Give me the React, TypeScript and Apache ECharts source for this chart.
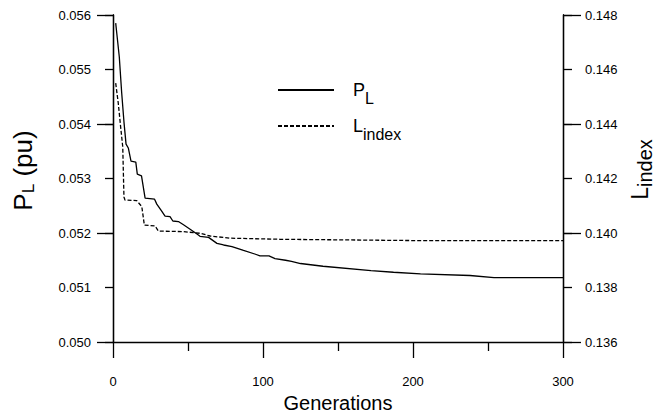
import React, { useEffect, useRef } from "react";
import * as echarts from "echarts";

const pGen = [1.8, 2.5, 4.2, 5.8, 7.3, 8.7, 10.2, 12, 15.2, 16.2, 19, 21.4, 27.7, 29.2, 32, 34.7, 38, 39.9, 43.6, 47, 51.4, 56, 58, 63.7, 69.3, 73.7, 79.3, 87, 95, 98, 104, 108, 115, 119, 125, 140, 172, 187, 205, 238, 254, 300];
const pLoss = [0.05585, 0.05567, 0.05523, 0.05457, 0.05404, 0.05363, 0.05356, 0.05332, 0.0533, 0.05308, 0.05305, 0.05264, 0.05262, 0.05253, 0.05242, 0.05231, 0.0523, 0.05222, 0.05221, 0.05215, 0.05207, 0.05198, 0.05194, 0.05192, 0.05181, 0.05178, 0.05175, 0.05168, 0.05161, 0.05158, 0.05158, 0.05153, 0.0515, 0.05148, 0.05144, 0.05139, 0.05131, 0.05128, 0.05125, 0.05122, 0.05118, 0.05118];

const lGen = [1.8, 3.5, 5.1, 6.5, 7.3, 8, 15.8, 19.2, 20.9, 28, 30.3, 47, 58, 64.8, 78, 111, 205, 300];
const lIndex = [0.1455, 0.14477, 0.14389, 0.14316, 0.14132, 0.14121, 0.14119, 0.14097, 0.14029, 0.14026, 0.14007, 0.14005, 0.13999, 0.13989, 0.13981, 0.13977, 0.13972, 0.13972];

const xTicks = { min: 0, max: 300, interval: 100 };
const leftTicks = { min: 0.05, max: 0.056, interval: 0.001 };
const rightTicks = { min: 0.136, max: 0.148, interval: 0.002 };

const FONT = "Liberation Sans";

export default function App() {
  const ref = useRef<HTMLDivElement>(null);
  useEffect(() => {
    if (!ref.current) return;
    const chart = echarts.init(ref.current, undefined, { renderer: "svg" });
    const axisLine = { show: true, onZero: false, lineStyle: { color: "#000", width: 1.3 } };
    const tickStyle = { color: "#000", width: 1.3 };
    const label = (d: number) => ({
      show: true,
      color: "#000",
      fontSize: 13,
      fontFamily: FONT,
      margin: 22,
      formatter: (v: number) => v.toFixed(d),
    });
    const leftRich = {
      m: { fontSize: 26, fontFamily: FONT, color: "#000" },
      s: { fontSize: 17, fontFamily: FONT, color: "#000", padding: [12, 0, 0, 0] },
    };
    const rightRich = {
      m: { fontSize: 23, fontFamily: FONT, color: "#000" },
      s: { fontSize: 20, fontFamily: FONT, color: "#000", padding: [10, 0, 0, 0] },
    };
    const legendText = {
      padding: [0, 0, 0, 14],
      rich: {
        m: { fontSize: 18, fontFamily: FONT, color: "#000" },
        s: { fontSize: 16, fontFamily: FONT, color: "#000", padding: [16, 0, 0, 0] },
      },
    };
    const gridRect = { left: 113, right: 91, top: 15, bottom: 69, containLabel: false, outerBoundsMode: "none" };
    chart.setOption({
      animation: false,
      backgroundColor: "#fff",
      grid: [gridRect, { ...gridRect }],
      legend: [
        {
          data: ["P_L"],
          left: 277,
          top: 81,
          padding: 0,
          itemWidth: 56,
          itemHeight: 14,
          itemStyle: { opacity: 0 },
          formatter: () => "{m|P}{s|L}",
          textStyle: legendText,
        },
        {
          data: ["L_index"],
          left: 277,
          top: 117,
          padding: 0,
          itemWidth: 56,
          itemHeight: 14,
          itemStyle: { opacity: 0 },
          formatter: () => "{m|L}{s|index}",
          textStyle: legendText,
        },
      ],
      xAxis: [
        {
          type: "value",
          gridIndex: 0,
          min: xTicks.min,
          max: xTicks.max,
          interval: xTicks.interval,
          axisLine,
          axisTick: { show: true, inside: false, length: 16, lineStyle: tickStyle },
          minorTick: { show: true, splitNumber: 2, length: 9, lineStyle: tickStyle },
          splitLine: { show: false },
          axisLabel: { show: true, color: "#000", fontSize: 13, fontFamily: FONT, margin: 33 },
          name: "Generations",
          nameLocation: "middle",
          nameGap: 39,
          nameTextStyle: { fontSize: 20, fontFamily: FONT, color: "#000" },
        },
        {
          type: "value",
          gridIndex: 1,
          min: xTicks.min,
          max: xTicks.max,
          interval: xTicks.interval,
          show: false,
        },
      ],
      yAxis: [
        {
          type: "value",
          gridIndex: 0,
          position: "left",
          min: leftTicks.min,
          max: leftTicks.max,
          interval: leftTicks.interval,
          axisLine,
          axisTick: { show: true, inside: false, length: 8, lineStyle: tickStyle },
          splitLine: { show: false },
          axisLabel: label(3),
          name: "{m|P}{s|L}{m| (pu)}",
          nameLocation: "middle",
          nameRotate: 90,
          nameGap: 76,
          nameTextStyle: { rich: leftRich, padding: [0, 0, 0, 16] },
        },
        {
          type: "value",
          gridIndex: 0,
          position: "right",
          min: rightTicks.min,
          max: rightTicks.max,
          interval: rightTicks.interval,
          axisLine,
          axisTick: { show: true, inside: false, length: 9, lineStyle: tickStyle },
          splitLine: { show: false },
          axisLabel: label(3),
          name: "{m|L}{s|index}",
          nameLocation: "middle",
          nameRotate: 90,
          nameGap: 55,
          nameTextStyle: { rich: rightRich, padding: [0, 0, 0, 18] },
        },
        {
          type: "value",
          gridIndex: 1,
          position: "left",
          min: leftTicks.min,
          max: leftTicks.max,
          interval: leftTicks.interval * 2,
          axisLine,
          axisTick: { show: true, inside: false, length: 16, lineStyle: tickStyle },
          splitLine: { show: false },
          axisLabel: { show: false },
        },
        {
          type: "value",
          gridIndex: 1,
          position: "right",
          min: rightTicks.min,
          max: rightTicks.max,
          interval: rightTicks.interval * 2,
          axisLine,
          axisTick: { show: true, inside: false, length: 18, lineStyle: tickStyle },
          splitLine: { show: false },
          axisLabel: { show: false },
        },
      ],
      series: [
        {
          name: "P_L",
          type: "line",
          xAxisIndex: 0,
          yAxisIndex: 0,
          symbol: "none",
          data: pGen.map((g, i) => [g, pLoss[i]]),
          lineStyle: { color: "#000", width: 1.3, type: "solid" },
          itemStyle: { color: "#000" },
        },
        {
          name: "L_index",
          type: "line",
          xAxisIndex: 0,
          yAxisIndex: 1,
          symbol: "none",
          data: lGen.map((g, i) => [g, lIndex[i]]),
          lineStyle: { color: "#000", width: 1.3, type: [4, 2] },
          itemStyle: { color: "#000" },
        },
      ],
    });
    return () => chart.dispose();
  }, []);
  return <div ref={ref} style={{ width: 654, height: 411, position: "absolute", left: 0, top: 0 }} />;
}
